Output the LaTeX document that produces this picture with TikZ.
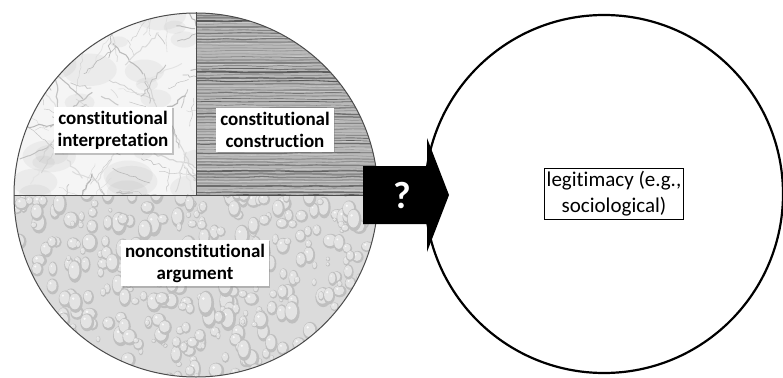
\documentclass[tikz,border=0pt]{standalone}
\usepackage{fontspec}
\setmainfont{Carlito}[RawFeature=-liga]
\usetikzlibrary{shadows,decorations.pathmorphing}
\begin{document}
\begin{tikzpicture}[x=1pt,y=-1pt,
  lbl/.style={fill=white, align=center, font=\bfseries\fontsize{19}{22}\selectfont,
    inner xsep=4pt, inner ysep=4pt,
    drop shadow={shadow xshift=1.5pt, shadow yshift=-1.5pt, opacity=.45, fill=gray}},
  rlbl/.style={draw=black, line width=1pt, fill=white, align=center,
    font=\fontsize{21}{26}\selectfont, inner xsep=2pt, inner ysep=3pt},
  crack/.style={decorate, decoration={random steps, segment length=4pt, amplitude=1.5pt}},
  grain/.style={decorate, decoration={random steps, segment length=18pt, amplitude=0.6pt}}]
\useasboundingbox (0,0) rectangle (783,377);
\fill[white] (0,0) rectangle (783,377);
\pgfmathsetseed{7}
% ---- marble quadrant
\begin{scope}
  \clip (196,195) circle[radius=182pt];
  \clip (0,0) rectangle (196,195);
  \fill[gray!8] (0,0) rectangle (196,195);
  \foreach \i in {1,...,30}{
    \pgfmathsetmacro\xa{rnd*200}
    \pgfmathsetmacro\ya{rnd*200}
    \pgfmathsetmacro\ra{8+rnd*20}
    \fill[gray, opacity=.08] (\xa,\ya) ellipse[x radius=\ra pt, y radius=0.6*\ra pt];
  }
  \foreach \i in {1,...,120}{
    \pgfmathsetmacro\xa{rnd*200}
    \pgfmathsetmacro\ya{rnd*200}
    \pgfmathsetmacro\ang{rnd*360}
    \pgfmathsetmacro\len{10+rnd*50}
    \pgfmathsetmacro\cc{20+rnd*40}
    \pgfmathsetmacro\w{0.3+rnd*0.9}
    \draw[gray!\cc, line width=\w pt, crack] (\xa,\ya) -- ++(\ang:\len);
  }
\end{scope}
% ---- wood quadrant
\begin{scope}
  \clip (196,195) circle[radius=182pt];
  \clip (196,0) rectangle (400,195);
  \fill[gray!55] (196,0) rectangle (400,195);
  \foreach \yy in {12,15,...,196}{
    \pgfmathsetmacro\cc{35+rnd*30}
    \pgfmathsetmacro\w{0.4+rnd*1.6}
    \draw[black!\cc, line width=\w pt, grain] (190,\yy) -- (400,\yy);
  }
  \foreach \yy in {13,20,...,196}{
    \pgfmathsetmacro\w{0.3+rnd*0.8}
    \draw[white, opacity=.25, line width=\w pt, grain] (190,\yy+rnd*4) -- (400,\yy+rnd*4);
  }
\end{scope}
% ---- water drops half
\begin{scope}
  \clip (196,195) circle[radius=182pt];
  \clip (0,195) rectangle (400,380);
  \fill[gray!28] (0,195) rectangle (400,380);
  \foreach \i in {1,...,420}{
    \pgfmathsetmacro\xa{10+rnd*380}
    \pgfmathsetmacro\ya{192+rnd*190}
    \pgfmathsetmacro\ra{2+rnd*6}
    \pgfmathsetmacro\rb{\ra*(0.8+rnd*0.9)}
    \fill[gray!50] (\xa,\ya) ellipse[x radius=\ra pt, y radius=\rb pt];
    \fill[gray!22] (\xa-0.12*\ra,\ya-0.12*\rb) ellipse[x radius=0.78*\ra pt, y radius=0.78*\rb pt];
    \fill[gray!5] (\xa-0.35*\ra,\ya-0.4*\rb) circle[radius=0.18*\ra pt];
  }
\end{scope}
% ---- left circle outline and dividers
\node[circle, draw=gray!60!black, line width=1pt, minimum size=364pt, inner sep=0pt] (L) at (196,195) {};
\draw[gray!60!black, line width=1pt] (L.north) -- (L.center);
\draw[gray!60!black, line width=1pt] (L.west) -- (L.east);
% ---- right circle
\node[circle, draw=black, line width=2.2pt, minimum size=358pt, inner sep=0pt] (R) at (604,194) {};
% ---- labels
\node[lbl] (ci) at (113,130) {constitutional\\interpretation};
\node[lbl] (cc) at (275,130) {constitutional\\construction};
\node[lbl] (na) at (195,263) {nonconstitutional\\argument};
\node[rlbl] (lg) at (614,194) {legitimacy (e.g.,\\sociological)};
% ---- arrow
\fill[black] (363,166) -- (427,166) -- (427,138) -- (449,195) -- (427,252) -- (427,224) -- (363,224) -- cycle;
\node[text=white, font=\bfseries\fontsize{38}{40}\selectfont, inner sep=0pt] (q) at (402,196) {?};
\end{tikzpicture}
\end{document}
